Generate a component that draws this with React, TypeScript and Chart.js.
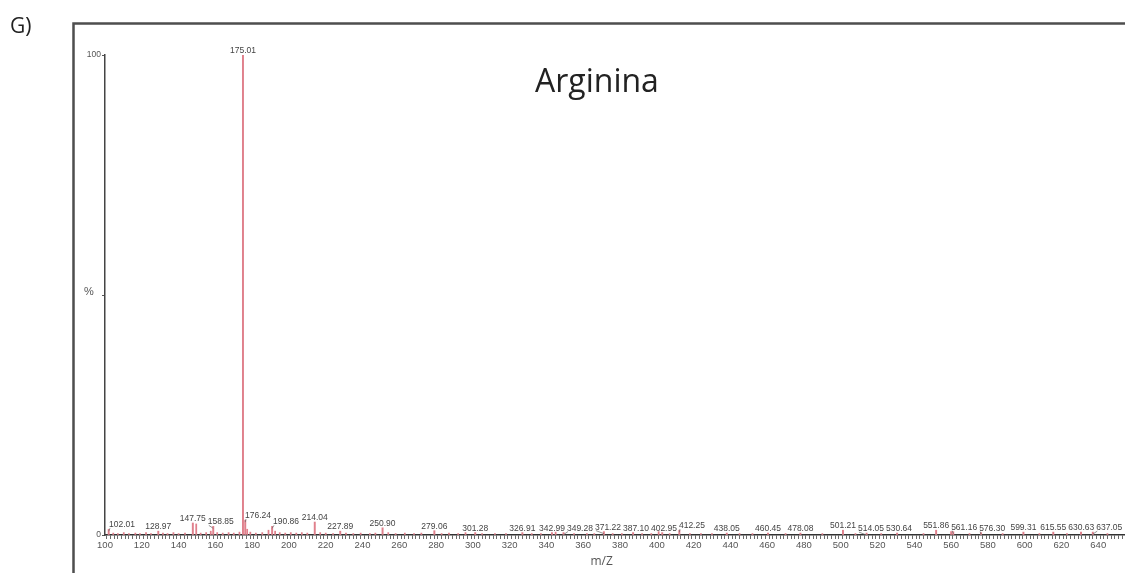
import { useEffect, useRef } from 'react';
import { Chart, registerables } from 'chart.js';

Chart.register(...registerables);

// Labelled peaks (m/z, relative intensity %)
const peakMz = [102.01, 128.97, 147.75, 158.85, 175.01, 176.24, 190.86, 214.04, 227.89, 250.9, 279.06, 301.28, 326.91, 342.99, 349.28, 371.22, 387.1, 402.95, 412.25, 438.05, 460.45, 478.08, 501.21, 514.05, 530.64, 551.86, 561.16, 576.3, 599.31, 615.55, 630.63, 637.05];
const peakIntensity = [1.2, 0.8, 2.5, 1.8, 100, 3.1, 1.8, 2.7, 0.8, 1.5, 0.9, 0.5, 0.5, 0.5, 0.5, 0.7, 0.5, 0.5, 1.0, 0.4, 0.4, 0.4, 1.0, 0.4, 0.4, 1.0, 0.7, 0.5, 0.6, 0.6, 0.6, 0.6];

// Unlabelled small peaks along the baseline
const noiseMz = [104.5, 107, 110.2, 113, 116.5, 119, 122.3, 125, 131.5, 134, 137.2, 140, 143.5, 149.6, 152, 155, 157.5, 161, 164, 167.2, 170, 173.1, 177.3, 179, 182, 185.5, 188.9, 192.5, 195, 198, 201, 204, 207, 210, 217, 220, 224, 231, 235, 239, 244, 247, 254, 258, 263, 268, 272, 283, 287, 292, 296, 305, 312, 318, 332, 337, 345, 355, 362, 366, 376, 381, 392, 397, 401, 407, 418, 424, 430, 445, 452, 470, 490, 508, 522, 545, 560, 570, 588, 608, 623, 645];
const noiseIntensity = [0.4, 0.3, 0.5, 0.3, 0.4, 0.3, 0.5, 0.3, 0.4, 0.3, 0.5, 0.3, 0.4, 2.3, 0.4, 0.5, 0.8, 0.5, 0.4, 0.5, 0.4, 0.6, 1.2, 0.6, 0.4, 0.5, 1.0, 0.8, 0.5, 0.4, 0.5, 0.4, 0.5, 0.4, 0.5, 0.4, 0.3, 0.4, 0.3, 0.4, 0.3, 0.4, 0.5, 0.3, 0.4, 0.3, 0.4, 0.3, 0.4, 0.3, 0.5, 0.3, 0.3, 0.3, 0.3, 0.3, 0.6, 0.3, 0.3, 0.3, 0.3, 0.3, 0.3, 0.3, 0.7, 0.3, 0.3, 0.3, 0.3, 0.3, 0.3, 0.3, 0.3, 0.3, 0.3, 0.3, 0.7, 0.3, 0.3, 0.3, 0.3, 0.3];

const xMin = 100;
const xMax = 654;
const xTickStep = 2;
const xLabelEvery = 20;
const xLastLabel = 640;
const yTickStep = 50;
const yTickLabels: Record<number, string> = { 0: '0', 50: '', 100: '100' };

const panelLetter = 'G)';
const chartTitle = 'Arginina';
const xTitle = 'm/Z';
const yTitle = '%';

export default function App() {
  const ref = useRef<HTMLCanvasElement>(null);

  useEffect(() => {
    document.body.style.margin = '0';
    const canvas = ref.current!;
    const sans = '"Liberation Sans", Arial, sans-serif';
    const labelFont = `8.5px ${sans}`;
    const stickColor = '#e0808c';

    const decor = {
      id: 'decor',
      beforeDraw(chart: any) {
        const ctx = chart.ctx;
        ctx.save();
        ctx.strokeStyle = '#4e4e4e';
        ctx.lineWidth = 2.5;
        ctx.beginPath();
        ctx.moveTo(73.5, chart.height);
        ctx.lineTo(73.5, 23.5);
        ctx.lineTo(chart.width, 23.5);
        ctx.stroke();
        ctx.restore();
      },
      afterDraw(chart: any) {
        const ctx = chart.ctx;
        const xs = chart.scales.x;
        const ys = chart.scales.y;
        ctx.save();
        ctx.fillStyle = '#222';
        ctx.textBaseline = 'alphabetic';
        ctx.textAlign = 'left';
        ctx.font = '21px "Open Sans", sans-serif';
        ctx.fillText(panelLetter, 10, 33);
        ctx.font = '32px "Open Sans", sans-serif';
        ctx.fillText(chartTitle, 535, 92);
        ctx.fillStyle = '#555';
        ctx.textAlign = 'center';
        ctx.textBaseline = 'middle';
        ctx.font = `11px ${sans}`;
        ctx.fillText(yTitle, 89, ys.getPixelForValue(50) - 3);
        ctx.font = '12px "Open Sans", sans-serif';
        ctx.fillText(xTitle, xs.getPixelForValue((xMin + xLastLabel) / 2), 562);
        ctx.restore();
      },
    };

    const peakLabels = {
      id: 'peakLabels',
      afterDatasetsDraw(chart: any) {
        const ctx = chart.ctx;
        const xs = chart.scales.x;
        const ys = chart.scales.y;
        const areaLeft = chart.chartArea.left;
        ctx.save();
        ctx.font = labelFont;
        const peaks = peakMz.map((mz, i) => ({
          mz,
          px: xs.getPixelForValue(mz),
          top: ys.getPixelForValue(peakIntensity[i]),
          text: mz.toFixed(2),
        }));
        const textH = 8;
        const gap = 2;
        const placed: { l: number; r: number; t: number; b: number }[] = [];
        const sorted = [...peaks].sort((a, b) => a.px - b.px);
        for (const p of sorted) {
          const w = ctx.measureText(p.text).width;
          const b = p.top - 1;
          const t = b - textH;
          let cx = Math.max(p.px, areaLeft + 4 + w / 2);
          for (let iter = 0; iter < 10; iter++) {
            let moved = false;
            for (const q of placed) {
              const l = cx - w / 2;
              const r = cx + w / 2;
              if (q.t < b && q.b > t && l < q.r + gap && r > q.l - gap) {
                cx = q.r + gap + w / 2;
                moved = true;
              }
            }
            for (const o of peaks) {
              if (o === p) continue;
              const l = cx - w / 2;
              const r = cx + w / 2;
              if (o.top < t && o.px > l - 1 && o.px < r + 1) {
                cx = o.px + gap + w / 2;
                moved = true;
              }
            }
            if (!moved) break;
          }
          placed.push({ l: cx - w / 2, r: cx + w / 2, t, b });
          ctx.fillStyle = '#444';
          ctx.textAlign = 'center';
          ctx.textBaseline = 'bottom';
          ctx.fillText(p.text, cx, b + 1);
          if (Math.abs(cx - p.px) > 3) {
            ctx.strokeStyle = '#666';
            ctx.lineWidth = 0.7;
            ctx.beginPath();
            ctx.moveTo(cx - w / 2 + 1, b);
            ctx.lineTo(p.px, Math.max(p.top, b + 3));
            ctx.stroke();
          }
        }
        ctx.restore();
      },
    };

    const chart = new Chart(canvas, {
      type: 'bar',
      data: {
        datasets: [
          {
            data: noiseMz.map((x, i) => ({ x, y: noiseIntensity[i] })),
            backgroundColor: stickColor,
            barThickness: 1.1,
            grouped: false,
            borderWidth: 0,
          } as any,
          {
            data: peakMz.map((x, i) => ({ x, y: peakIntensity[i] })),
            backgroundColor: stickColor,
            barThickness: 1.3,
            grouped: false,
            borderWidth: 0,
          } as any,
        ],
      },
      options: {
        animation: false,
        responsive: false,
        maintainAspectRatio: false,
        layout: { padding: { left: 0, top: 55, right: 0, bottom: 0 } },
        plugins: { legend: { display: false }, tooltip: { enabled: false }, title: { display: false } },
        scales: {
          x: {
            type: 'linear',
            min: xMin,
            max: xMax,
            offset: false,
            afterFit: (s: any) => { s.height = 38; },
            grid: { drawOnChartArea: false, drawTicks: true, tickLength: 4, tickColor: '#444', tickWidth: 0.8 },
            border: { display: true, color: '#333', width: 1.5 },
            ticks: {
              stepSize: xTickStep,
              autoSkip: false,
              maxRotation: 0,
              padding: 1,
              color: '#555',
              font: { family: sans, size: 9.5 },
              callback: (v: any) => {
                const n = Math.round(Number(v));
                return n % xLabelEvery === 0 && n <= xLastLabel ? String(n) : '';
              },
            },
          },
          y: {
            type: 'linear',
            min: 0,
            max: 100,
            afterFit: (s: any) => { s.width = 105; },
            grid: { drawOnChartArea: false, drawTicks: true, tickLength: 3, tickColor: '#555' },
            border: { display: true, color: '#444', width: 1.5 },
            ticks: {
              stepSize: yTickStep,
              padding: 1,
              color: '#555',
              font: { family: sans, size: 8.5 },
              callback: (v: any) => yTickLabels[Math.round(Number(v))] ?? '',
            },
          },
        },
      },
      plugins: [decor, peakLabels],
    });
    return () => chart.destroy();
  }, []);

  return <canvas ref={ref} width={1125} height={573} style={{ display: 'block' }} />;
}
